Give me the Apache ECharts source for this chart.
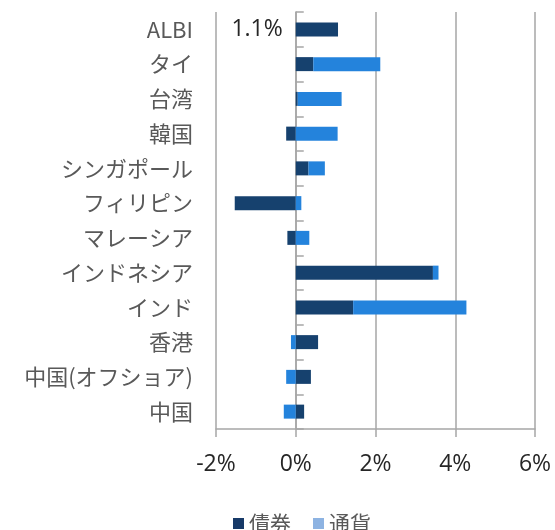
<!DOCTYPE html>
<html>
<head>
<meta charset="utf-8">
<script src="https://cdn.jsdelivr.net/npm/echarts@6/dist/echarts.min.js"></script>
<style>html,body{margin:0;padding:0;background:#fff}#c{width:555px;height:530px}</style>
</head>
<body>
<div id="c"></div>
<script>
const categories = ['ALBI','タイ','台湾','韓国','シンガポール','フィリピン','マレーシア','インドネシア','インド','香港','中国(オフショア)','中国'];
const bondValues = [1.06, 0.44, 0.05, -0.24, 0.32, -1.53, -0.21, 3.44, 1.44, 0.56, 0.38, 0.21];
const currencyValues = [0, 1.68, 1.10, 1.05, 0.41, 0.14, 0.34, 0.14, 2.84, -0.12, -0.24, -0.30];
const seriesNames = ['債券','通貨'];
const xTicks = {min: -2, max: 6, interval: 2};

const chart = echarts.init(document.getElementById('c'), null, {renderer: 'canvas'});
const catFont = '"Noto Sans CJK JP", sans-serif';
const numFont = '"Open Sans", "Noto Sans", sans-serif';

const bondData = bondValues.map((v, i) => {
  if (i === 0) {
    const total = bondValues[0] + currencyValues[0];
    return {value: v, label: {show: true, position: 'left', distance: 13,
      formatter: total.toFixed(1) + '%', color: '#262626', fontSize: 23, fontFamily: numFont}};
  }
  return v;
});

chart.setOption({
  animation: false,
  grid: {left: 216, right: 20, top: 12, bottom: 101, containLabel: false, outerBoundsMode: 'none'},
  xAxis: {
    type: 'value', min: xTicks.min, max: xTicks.max, interval: xTicks.interval,
    axisLine: {show: true, lineStyle: {color: '#a6a6a6', width: 1.5}},
    axisTick: {show: true, length: 8, lineStyle: {color: '#a6a6a6', width: 1.5}},
    splitLine: {show: true, lineStyle: {color: '#a6a6a6', width: 1.5}},
    axisLabel: {formatter: '{value}%', color: '#262626', fontSize: 23, fontFamily: numFont, margin: 24}
  },
  yAxis: [{
    type: 'category', data: categories, inverse: true,
    axisLine: {show: false, onZero: false},
    axisTick: {show: false},
    axisLabel: {color: '#595959', fontSize: 22, fontFamily: catFont, margin: 23}
  }, {
    type: 'category', data: categories, inverse: true,
    axisLine: {show: true, onZero: true, lineStyle: {color: '#a6a6a6', width: 1.5}},
    axisTick: {show: true, length: 8, lineStyle: {color: '#a6a6a6', width: 1.5}},
    axisLabel: {show: false}
  }],
  legend: {
    data: [
      {name: seriesNames[0], itemStyle: {color: '#173a68'}},
      {name: seriesNames[1], itemStyle: {color: '#8db3e2'}}
    ],
    left: 228, top: 508, itemWidth: 11, itemHeight: 11, itemGap: 22,
    icon: 'rect',
    textStyle: {color: '#595959', fontSize: 21, fontFamily: catFont}
  },
  series: [{
    name: seriesNames[0], type: 'bar', stack: 'total', yAxisIndex: 0,
    data: bondData, barWidth: 14,
    itemStyle: {color: '#16416e'}
  }, {
    name: seriesNames[1], type: 'bar', stack: 'total', yAxisIndex: 0,
    data: currencyValues, barWidth: 14,
    itemStyle: {color: '#2483dc'}
  }]
});
</script>
</body>
</html>
